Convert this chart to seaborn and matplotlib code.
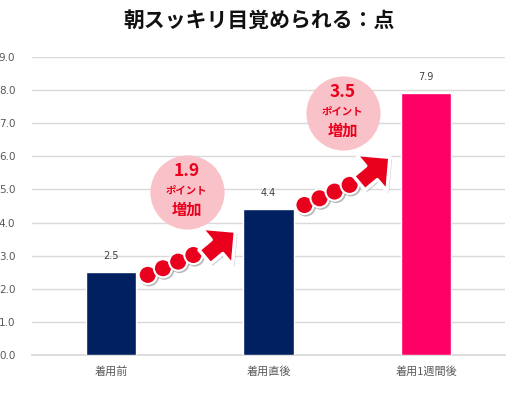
import numpy as np
import pandas as pd
import matplotlib.pyplot as plt
import matplotlib.patheffects as pe
import matplotlib.transforms as mtransforms
from matplotlib.patches import Polygon
import seaborn as sns

# chart data
categories = ['着用前', '着用直後', '着用1週間後']
scores = [2.5, 4.4, 7.9]
bar_colors = ['#00205F', '#00205F', '#FF0066']
title = '朝スッキリ目覚められる：点'

df = pd.DataFrame({'category': categories, 'score': scores})

sns.set_theme(style='white')
plt.rcParams['font.family'] = ['Noto Sans CJK JP', 'DejaVu Sans']

fig = plt.figure(figsize=(5.18, 3.98), dpi=100)
ax = fig.add_axes([32 / 518, 1 - 355 / 398, 473 / 518, 298 / 398])

sns.barplot(data=df, x='category', y='score', hue='category', palette=bar_colors,
            legend=False, width=0.32, saturation=1, ax=ax, zorder=3)

ax.set_xlim(-0.5, 2.5)
ax.set_ylim(0, 9)
yt = np.arange(0, 9.1, 1.0)
ax.set_yticks(yt)
ax.set_yticklabels([f'{v:.1f}' for v in yt], family='DejaVu Sans')
ax.yaxis.grid(True, color='#D9D9D9', linewidth=1)
ax.set_axisbelow(True)
for s in ['top', 'right', 'left']:
    ax.spines[s].set_visible(False)
ax.spines['bottom'].set_color('#D9D9D9')
ax.tick_params(axis='both', length=0, labelsize=7.5, labelcolor='#595959', pad=8)
ax.tick_params(axis='x', labelsize=8)
ax.tick_params(axis='y', pad=12)
ax.set_xlabel('')
ax.set_ylabel('')

# value labels above bars
for i, v in enumerate(scores):
    ax.annotate(f'{v:.1f}', (i, v), xytext=(0, 8), textcoords='offset points',
                ha='center', va='bottom', fontsize=7, color='#404040', family='DejaVu Sans')

fig.text(0.5, 0.948, title, ha='center', va='center', fontsize=15,
         fontweight='bold', color='#111111')

# increase bubbles and dotted arrows
red = '#E8001C'
bubbles = [(0.48, 4.92), (1.47, 7.31)]
arrows = [((0.234, 2.42), (0.62, 3.22), (0.79, 3.74)),
          ((1.228, 4.53), (1.61, 5.34), (1.77, 5.97))]
# arrow outline in pixels, pointing along +x with the tip at the origin
arrow_shape = np.array([[0, 0], [-24, 24], [-24, 9], [-40, 9],
                        [-40, -9], [-24, -9], [-24, -24]])
shadow = [pe.SimplePatchShadow(offset=(1.5, -1.5), shadow_rgbFace='#888888', alpha=0.4),
          pe.Normal()]
for k in range(2):
    diff = scores[k + 1] - scores[k]
    bx, by = bubbles[k]
    ax.scatter([bx], [by], s=2850, color='#F9C1C8', zorder=4, linewidths=0)
    ax.annotate(f'{diff:.1f}', (bx, by), xytext=(0, 15), textcoords='offset points',
                ha='center', va='center', fontsize=12.5, fontweight='bold', color=red, zorder=5)
    ax.annotate('ポイント', (bx, by), xytext=(0, 1), textcoords='offset points',
                ha='center', va='center', fontsize=7.5, fontweight='bold', color=red, zorder=5)
    ax.annotate('増加', (bx, by), xytext=(0, -13), textcoords='offset points',
                ha='center', va='center', fontsize=11, fontweight='bold', color=red, zorder=5)

    start, tail, tip = arrows[k]
    dx = np.linspace(start[0], tail[0], 5)[:4]
    dy = np.linspace(start[1], tail[1], 5)[:4]
    ax.scatter(dx, dy, s=170, color=red, edgecolor='white', linewidth=1.5, zorder=6,
               path_effects=[pe.SimpleLineShadow(offset=(1, -1), alpha=0.3), pe.Normal()])

    tr = (mtransforms.Affine2D().rotate_deg(40).scale(1 / fig.dpi) + fig.dpi_scale_trans
          + mtransforms.ScaledTranslation(tip[0], tip[1], ax.transData))
    ax.add_patch(Polygon(arrow_shape, closed=True, transform=tr, fc=red, ec='white',
                         lw=2.5, joinstyle='round', zorder=7, path_effects=shadow))

fig.savefig('out.png', dpi=100)
